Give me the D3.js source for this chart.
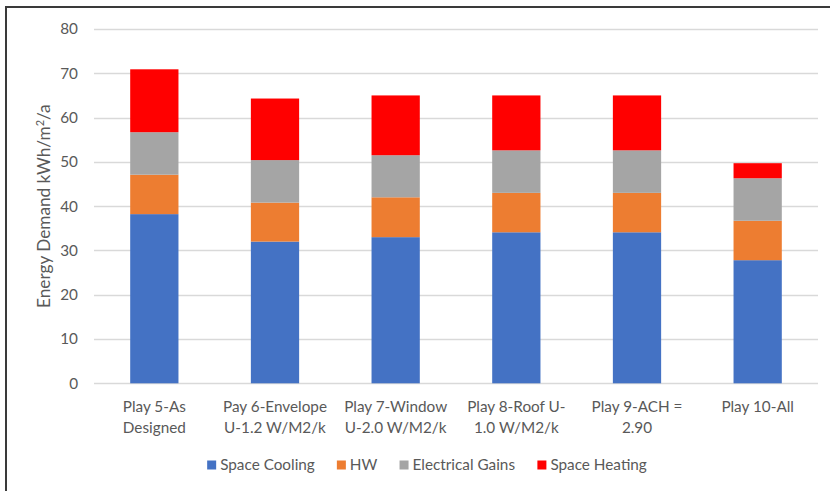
<!DOCTYPE html>
<html>
<head>
<meta charset="utf-8">
<script src="https://cdn.jsdelivr.net/npm/d3@7/dist/d3.min.js"></script>
<style>
  body { margin: 0; background: #fff; }
  svg text { font-family: Lato, 'Open Sans', sans-serif; fill: #595959; }
</style>
</head>
<body>
<svg id="chart" width="830" height="491"></svg>
<script>
var plays = [
  ['Play 5-As', 'Designed'],
  ['Pay 6-Envelope', 'U-1.2 W/M2/k'],
  ['Play 7-Window', 'U-2.0 W/M2/k'],
  ['Play 8-Roof U-', '1.0 W/M2/k'],
  ['Play 9-ACH =', '2.90'],
  ['Play 10-All']
];
var seriesNames = ['Space Cooling', 'HW', 'Electrical Gains', 'Space Heating'];
var spaceCooling = [38.2, 32.0, 33.0, 34.1, 34.1, 27.8];
var hw = [8.9, 8.8, 9.0, 8.9, 8.9, 8.9];
var electricalGains = [9.6, 9.6, 9.5, 9.6, 9.6, 9.6];
var spaceHeating = [14.2, 13.9, 13.5, 12.4, 12.4, 3.4];
var yTicks = [0, 10, 20, 30, 40, 50, 60, 70, 80];
var colors = ['#4472C4', '#ED7D31', '#A5A5A5', '#FF0000'];

var svg = d3.select('#chart'),
    plotLeft = 94, plotRight = 818, plotTop = 29, plotBottom = 383.3,
    fontSize = '15.3px';

// chart frame (only top/left edges are visible in the original)
svg.append('line').attr('x1', 5).attr('x2', 830).attr('y1', 7).attr('y2', 7)
   .attr('stroke', '#3a3a3a').attr('stroke-width', 2);
svg.append('line').attr('x1', 6).attr('x2', 6).attr('y1', 6).attr('y2', 491)
   .attr('stroke', '#3a3a3a').attr('stroke-width', 2);

var table = plays.map(function(p, i) {
  return {
    id: i,
    'Space Cooling': spaceCooling[i],
    'HW': hw[i],
    'Electrical Gains': electricalGains[i],
    'Space Heating': spaceHeating[i]
  };
});

var x = d3.scaleBand()
          .domain(d3.range(plays.length))
          .range([plotLeft, plotRight])
          .paddingInner(0.6)
          .paddingOuter(0.3);

var y = d3.scaleLinear()
          .domain([0, 80])
          .range([plotBottom, plotTop]);

var z = d3.scaleOrdinal().domain(seriesNames).range(colors);

// gridlines
svg.append('g').selectAll('line')
   .data(yTicks)
   .enter().append('line')
     .attr('x1', plotLeft).attr('x2', plotRight)
     .attr('y1', function(d) { return Math.round(y(d)) + 0.5; })
     .attr('y2', function(d) { return Math.round(y(d)) + 0.5; })
     .attr('stroke', '#d9d9d9')
     .attr('stroke-width', 1.3);

// y tick labels
var yAxis = svg.append('g')
               .attr('transform', 'translate(' + (plotLeft - 8) + ',0)')
               .call(d3.axisLeft(y).tickValues(yTicks).tickSize(0).tickPadding(8));
yAxis.select('.domain').remove();
yAxis.selectAll('text')
     .attr('font-size', fontSize)
     .style('font-family', 'Lato, sans-serif')
     .attr('fill', '#595959');

// y title
svg.append('text')
   .attr('transform', 'translate(50,' + ((plotTop + plotBottom) / 2) + ') rotate(-90)')
   .attr('text-anchor', 'middle')
   .attr('font-size', '17.2px')
   .html('Energy Demand kWh/m<tspan font-size="11px" dy="-6">2</tspan><tspan dy="6">/a</tspan>');

// bars
var stacked = d3.stack().keys(seriesNames)(table);
svg.append('g').selectAll('g')
   .data(stacked)
   .enter().append('g')
     .attr('fill', function(d) { return z(d.key); })
   .selectAll('rect')
   .data(function(d) { return d; })
   .enter().append('rect')
     .attr('x', function(d) { return x(d.data.id); })
     .attr('width', x.bandwidth())
     .attr('y', function(d) { return y(d[1]); })
     .attr('height', function(d) { return y(d[0]) - y(d[1]); });

// x labels
var xLab = svg.append('g').selectAll('text')
   .data(plays)
   .enter().append('text')
     .attr('text-anchor', 'middle')
     .attr('font-size', fontSize)
     .attr('y', 412);
xLab.selectAll('tspan')
    .data(function(d, i) { return d.map(function(s) { return { s: s, i: i }; }); })
    .enter().append('tspan')
      .attr('x', function(d) { return x(d.i) + x.bandwidth() / 2; })
      .attr('dy', function(d, j) { return j ? 21 : 0; })
      .text(function(d) { return d.s; });

// legend
var legend = svg.append('g').attr('transform', 'translate(0,465)');
var lx = 0;
var items = legend.selectAll('g')
   .data(seriesNames)
   .enter().append('g');
items.append('rect')
     .attr('width', 9).attr('height', 9).attr('y', -4.5)
     .attr('fill', function(d) { return z(d); });
items.append('text')
     .attr('x', 13).attr('dy', '0.35em')
     .attr('font-size', fontSize)
     .text(function(d) { return d; });
items.each(function() {
  var g = d3.select(this);
  g.attr('transform', 'translate(' + lx + ',0)');
  lx += this.getBBox().width + 22;
});
lx -= 22;
legend.attr('transform', 'translate(' + (427 - lx / 2) + ',465)');
</script>
</body>
</html>
